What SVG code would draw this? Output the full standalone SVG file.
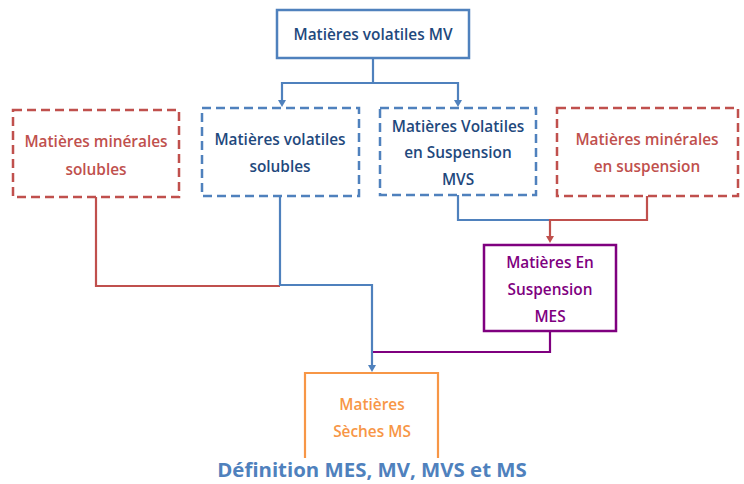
<svg xmlns="http://www.w3.org/2000/svg" width="744" height="484" viewBox="0 0 744 484">
<defs>
<style>
text{font-family:"Open Sans","Liberation Sans",sans-serif;font-weight:600;text-anchor:middle;font-size:15.4px}
.box{fill:#fff;stroke-width:2.5}
.dash{stroke-dasharray:9 5}
.blue{stroke:#4F81BD}
.red{stroke:#C0504D}
.pur{stroke:#7F007F}
.org{stroke:#F79646}
.tb{fill:#1F497D}
.tr{fill:#C0504D}
.tp{fill:#7F007F}
.to{fill:#F79646}
.c{fill:none;stroke-width:2.2}
</style>
</defs>
<g id="connectors">
<path class="c blue" d="M373,58 V83 H282 V101"/>
<path class="c blue" d="M373,83 H458 V101"/>
<path d="M278,100 L286,100 L282,107 Z" fill="#4F81BD"/>
<path d="M454,100 L462,100 L458,107 Z" fill="#4F81BD"/>
<path class="c red" d="M96,197 V286 H280"/>
<path class="c blue" d="M280,196 V285 H372 V366"/>
<path d="M368,365 L376,365 L372,372 Z" fill="#4F81BD"/>
<path class="c blue" d="M458,195 V220 H550"/>
<path class="c red" d="M647,196 V220 H550 V237"/>
<path d="M546,236 L554,236 L550,243 Z" fill="#C0504D"/>
<path class="c pur" d="M550,331 V352 H373"/>
</g>
<g id="mv">
<rect class="box blue" x="277" y="10" width="192" height="48"/>
<text class="tb" x="373" y="40">Matières volatiles MV</text>
</g>
<g id="mms">
<rect class="box red dash" x="13" y="110" width="166" height="87"/>
<text class="tr" x="96" y="147">Matières minérales</text>
<text class="tr" x="96" y="175">solubles</text>
</g>
<g id="mvsol">
<rect class="box blue dash" x="202" y="108" width="157" height="88"/>
<text class="tb" x="280" y="145">Matières volatiles</text>
<text class="tb" x="280" y="172">solubles</text>
</g>
<g id="mvs">
<rect class="box blue dash" x="380" y="108" width="156" height="87"/>
<text class="tb" x="458" y="132">Matières Volatiles</text>
<text class="tb" x="458" y="158">en Suspension</text>
<text class="tb" x="458" y="185">MVS</text>
</g>
<g id="mmsusp">
<rect class="box red dash" x="557" y="108" width="181" height="88"/>
<text class="tr" x="647" y="145">Matières minérales</text>
<text class="tr" x="647" y="172">en suspension</text>
</g>
<g id="mes">
<rect class="box pur" x="484" y="245" width="132" height="86"/>
<text class="tp" x="550" y="268">Matières En</text>
<text class="tp" x="550" y="295">Suspension</text>
<text class="tp" x="550" y="322">MES</text>
</g>
<g id="ms">
<path class="c org" stroke-width="2.5" d="M305,458 V373 H438 V458"/>
<text class="to" x="372" y="410">Matières</text>
<text class="to" x="372" y="437">Sèches MS</text>
</g>
<text x="372" y="477" style="font-size:20.4px;font-weight:700;fill:#4F81BD">Définition MES, MV, MVS et MS</text>
</svg>
